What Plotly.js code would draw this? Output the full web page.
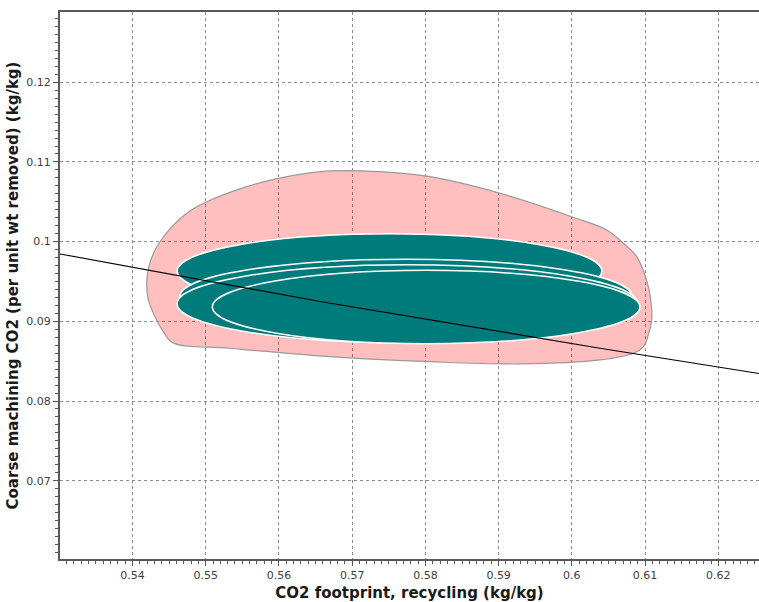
<!DOCTYPE html>
<html>
<head>
<meta charset="utf-8">
<script src="https://cdn.plot.ly/plotly-3.0.1.min.js"></script>
<style>
  html, body { margin: 0; padding: 0; background: #ffffff; }
  #chart { width: 759px; height: 602px; }
</style>
</head>
<body>
<div id="chart"></div>
<script>
// Outer envelope of the recycling / coarse machining CO2 cloud (kg/kg)
const envelopeX = [0.54195, 0.54227, 0.54295, 0.54377, 0.54513, 0.54650, 0.54814, 0.55014,
                   0.55561, 0.55992, 0.56698, 0.57381, 0.58063, 0.59019, 0.59998, 0.60476,
                   0.60703, 0.60886, 0.61044, 0.61090, 0.61090, 0.61044, 0.60976, 0.60839,
                   0.60385, 0.59292, 0.58063, 0.56698, 0.55333, 0.54550, 0.54422, 0.54309,
                   0.54217, 0.54195];
const envelopeY = [0.09497, 0.09695, 0.09870, 0.09999, 0.10159, 0.10287, 0.10404, 0.10501,
                   0.10690, 0.10795, 0.10887, 0.10878, 0.10815, 0.10607, 0.10313, 0.10146,
                   0.09979, 0.09811, 0.09435, 0.09142, 0.09017, 0.08829, 0.08682, 0.08599,
                   0.08515, 0.08465, 0.08493, 0.08556, 0.08662, 0.08732, 0.08870, 0.09058,
                   0.09268, 0.09497];

// Confidence ellipses, drawn in order (bounding box in data units)
const ellipseXmin = [0.5461, 0.5465, 0.5461, 0.5509];
const ellipseXmax = [0.6041, 0.6082, 0.6090, 0.6093];
const ellipseYmin = [0.0916, 0.0885, 0.0873, 0.0872];
const ellipseYmax = [0.1010, 0.0978, 0.0971, 0.0964];

// Trend line
const trendX = [0.53011, 0.56561, 0.60385, 0.62555];
const trendY = [0.09845, 0.09249, 0.08662, 0.08345];

// Axis ranges
const xRange = [0.53011, 0.62555];
const yRange = [0.06017, 0.12882];

const TEAL = '#007b7b';

const traces = [{
  type: 'scatter',
  mode: 'lines',
  x: envelopeX,
  y: envelopeY,
  fill: 'toself',
  fillcolor: 'rgba(255,0,0,0.25)',
  line: { color: '#9a9a9a', width: 1.2, shape: 'spline', smoothing: 1 },
  hoverinfo: 'skip',
  showlegend: false
}];

const shapes = ellipseXmin.map((x0, i) => ({
  type: 'circle',
  xref: 'x', yref: 'y',
  x0: x0, x1: ellipseXmax[i],
  y0: ellipseYmin[i], y1: ellipseYmax[i],
  fillcolor: TEAL,
  line: { color: '#ffffff', width: 1.5 },
  layer: 'above'
}));

shapes.push({
  type: 'path',
  xref: 'x', yref: 'y',
  path: trendX.map((x, i) => (i === 0 ? 'M' : 'L') + x + ',' + trendY[i]).join(' '),
  line: { color: '#000000', width: 1.2 },
  layer: 'above'
});

const tickFont = { family: 'DejaVu Sans, Verdana, sans-serif', size: 11, color: '#404040' };
const titleFont = { family: 'DejaVu Sans, Verdana, sans-serif', size: 15, color: '#1a1a1a', weight: 'bold' };

const layout = {
  width: 759,
  height: 602,
  margin: { l: 60, r: 0, t: 12, b: 43 },
  paper_bgcolor: '#ffffff',
  plot_bgcolor: '#ffffff',
  showlegend: false,
  xaxis: {
    range: xRange,
    tick0: 0,
    dtick: 0.01,
    ticks: 'outside',
    ticklen: 5,
    tickcolor: '#555555',
    tickfont: tickFont,
    showline: true,
    linecolor: '#5a5a5a',
    linewidth: 2,
    mirror: true,
    showgrid: true,
    gridcolor: '#8a8a8a',
    gridwidth: 1,
    griddash: '3px,3px',
    zeroline: false,
    automargin: true,
    minor: { dtick: 0.001, tick0: 0, ticks: 'outside', ticklen: 3, tickcolor: '#555555', showgrid: false },
    title: { text: 'CO2 footprint, recycling (kg/kg)', font: titleFont, standoff: 6 }
  },
  yaxis: {
    range: yRange,
    tick0: 0,
    dtick: 0.01,
    ticks: 'outside',
    ticklen: 5,
    tickcolor: '#555555',
    tickfont: tickFont,
    showline: true,
    linecolor: '#5a5a5a',
    linewidth: 2,
    mirror: false,
    showgrid: true,
    gridcolor: '#8a8a8a',
    gridwidth: 1,
    griddash: '3px,3px',
    zeroline: false,
    automargin: true,
    minor: { dtick: 0.001, tick0: 0, ticks: 'outside', ticklen: 3, tickcolor: '#555555', showgrid: false },
    title: { text: 'Coarse machining CO2 (per unit wt removed) (kg/kg)', font: titleFont, standoff: 4 }
  },
  shapes: shapes
};

Plotly.newPlot('chart', traces, layout, { displayModeBar: false, staticPlot: true });
</script>
</body>
</html>
